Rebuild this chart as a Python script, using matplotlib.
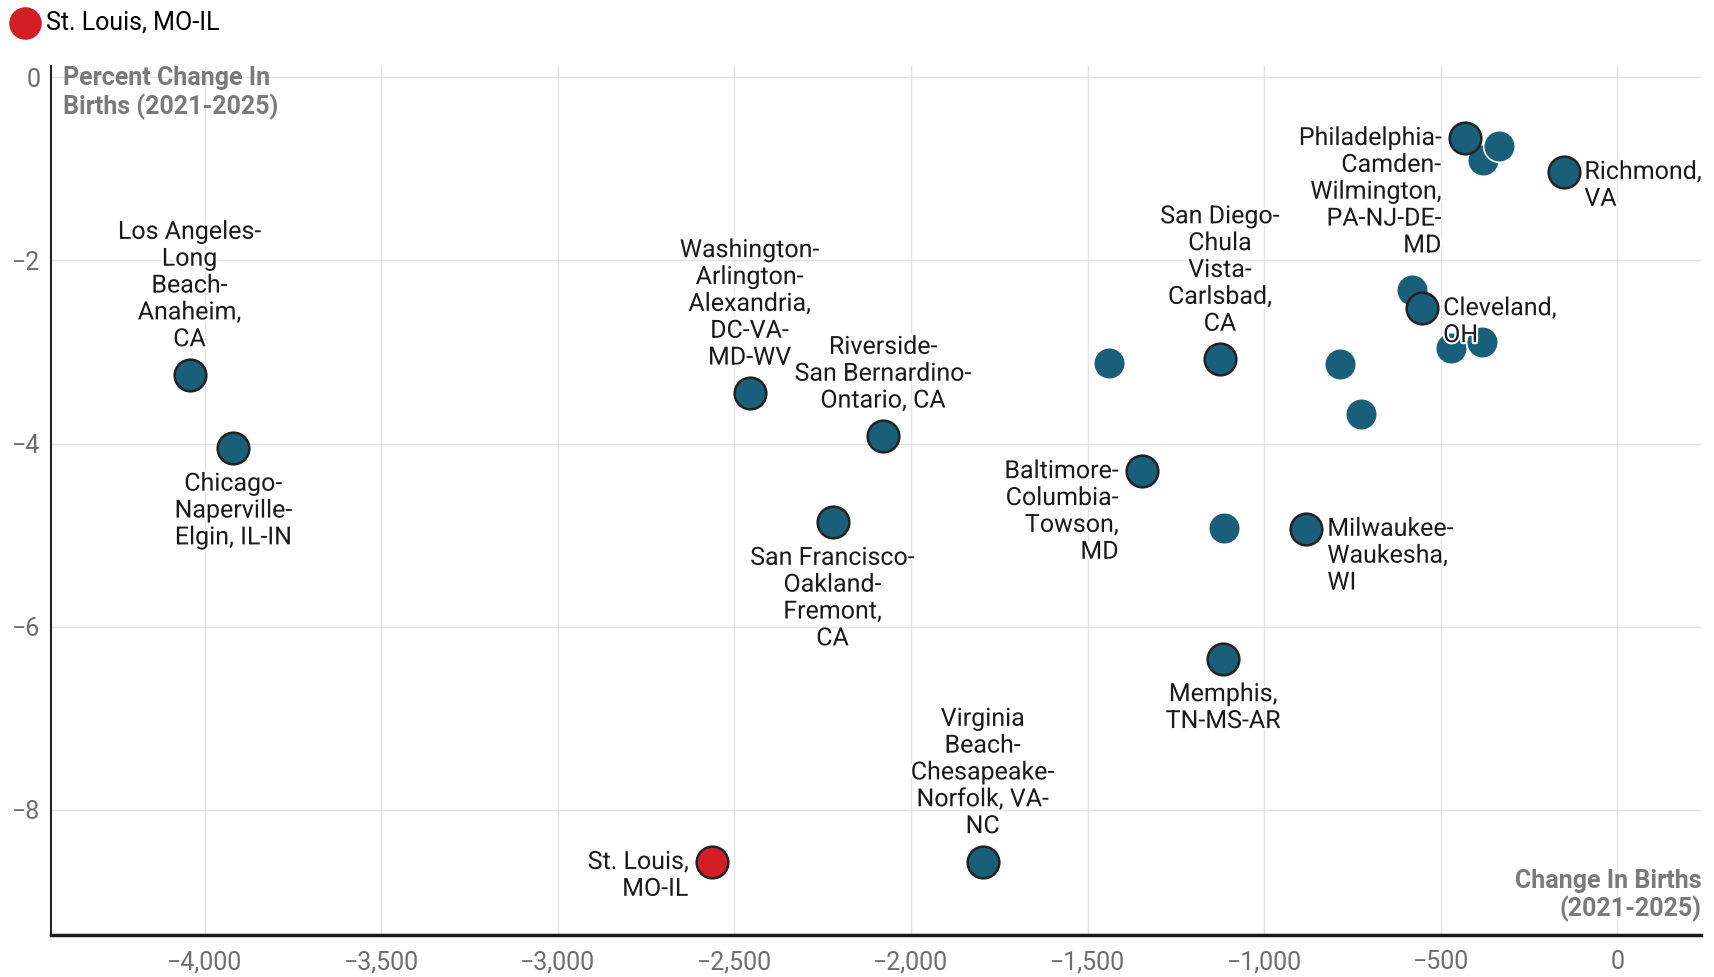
import matplotlib.pyplot as plt
import matplotlib.patheffects as pe
from matplotlib.ticker import FuncFormatter

plt.rcParams['font.family'] = ['Roboto', 'DejaVu Sans']

# data
metros = ['Los Angeles-\nLong\nBeach-\nAnaheim,\nCA',
          'Chicago-\nNaperville-\nElgin, IL-IN',
          'Washington-\nArlington-\nAlexandria,\nDC-VA-\nMD-WV',
          'Riverside-\nSan Bernardino-\nOntario, CA',
          'San Francisco-\nOakland-\nFremont,\nCA',
          'St. Louis,\nMO-IL',
          'Virginia\nBeach-\nChesapeake-\nNorfolk, VA-\nNC',
          '',
          'San Diego-\nChula\nVista-\nCarlsbad,\nCA',
          'Baltimore-\nColumbia-\nTowson,\nMD',
          '',
          'Memphis,\nTN-MS-AR',
          'Milwaukee-\nWaukesha,\nWI',
          '', '', '',
          'Cleveland,\nOH',
          '', '',
          'Philadelphia-\nCamden-\nWilmington,\nPA-NJ-DE-\nMD',
          '', '',
          'Richmond,\nVA']
change = [-4043, -3919, -2457, -2079, -2222, -2563, -1797, -1438, -1125,
          -1345, -1113, -1116, -880, -784, -726, -580, -552, -472, -382,
          -431, -379, -335, -152]
pct = [-3.25, -4.05, -3.45, -3.92, -4.86, -8.57, -8.57, -3.12, -3.08,
       -4.30, -4.92, -6.35, -4.93, -3.13, -3.68, -2.32, -2.52, -2.96, -2.89,
       -0.66, -0.90, -0.75, -1.03]
highlight = 'St. Louis,\nMO-IL'

# label placement: (ha, va, dx, dy) in points
place = {'above': ('center', 'bottom', 0, 17),
         'below': ('center', 'top', 0, -17),
         'left': ('right', 'top', -17, 8.5),
         'right': ('left', 'top', 15, 8.5)}
side = ['above', 'below', 'above', 'above', 'below', 'left', 'above', None,
        'above', 'left', None, 'below', 'right', None, None, None, 'right',
        None, None, 'left', None, None, 'right']

teal = '#1a5f7a'
red = '#d21f26'
gray = '#7a7a7a'

fig = plt.figure(figsize=(17.15, 9.77), dpi=100)
ax = fig.add_axes([0.030, 0.043, 0.962, 0.889])

# unlabeled first, then labeled, then highlight on top
order = sorted(range(len(change)), key=lambda i: (metros[i] != '', metros[i] == highlight))
for i in order:
    if metros[i] == highlight:
        ax.scatter(change[i], pct[i], s=520, color=red, edgecolor='#222222',
                   linewidth=1.8, zorder=4, label='St. Louis, MO-IL')
    elif metros[i]:
        ax.scatter(change[i], pct[i], s=520, color=teal, edgecolor='#222222',
                   linewidth=1.8, zorder=3)
    else:
        ax.scatter(change[i], pct[i], s=520, color=teal, edgecolor='white',
                   linewidth=1.2, zorder=2)

for i, name in enumerate(metros):
    if not name:
        continue
    ha, va, dx, dy = place[side[i]]
    ax.annotate(name, (change[i], pct[i]), xytext=(dx, dy),
                textcoords='offset points', ha=ha, va=va,
                multialignment=ha,
                fontsize=18, color='#1a1a1a', linespacing=1.15, zorder=5,
                annotation_clip=False, clip_on=True,
                path_effects=[pe.withStroke(linewidth=3, foreground='white')])

ax.set_xlim(-4434, 238)
ax.set_ylim(-9.37, 0.12)
ax.set_xticks(range(-4000, 1, 500))
ax.set_yticks([0, -2, -4, -6, -8])
ax.xaxis.set_major_formatter(FuncFormatter(lambda v, p: f'{v:,.0f}'.replace('-', '\u2212')))
ax.yaxis.set_major_formatter(FuncFormatter(lambda v, p: f'{v:.0f}'.replace('-', '\u2212')))
ax.tick_params(length=0, labelsize=18, labelcolor='#6e6e6e')
ax.tick_params(axis='x', pad=11)
ax.tick_params(axis='y', pad=8)
ax.grid(color='#e3e3e3', linewidth=1)
ax.set_axisbelow(True)

for s in ['top', 'right']:
    ax.spines[s].set_visible(False)
ax.spines['left'].set_linewidth(1.5)
ax.spines['left'].set_color('#222222')
ax.spines['bottom'].set_linewidth(2.5)
ax.spines['bottom'].set_color('#1a1a1a')

ax.text(0.007, 1.0, 'Percent Change In\nBirths (2021-2025)', transform=ax.transAxes,
        ha='left', va='top', fontsize=18, fontweight='bold', color=gray, linespacing=1.15)
ax.text(1.0, 0.015, 'Change In Births\n(2021-2025)', transform=ax.transAxes,
        ha='right', va='bottom', fontsize=18, fontweight='bold', color=gray,
        linespacing=1.15, multialignment='right')

leg = fig.legend(loc='upper left', bbox_to_anchor=(-0.003, 1.007), frameon=False,
                 fontsize=18, handlelength=1.0, handletextpad=0.35, markerscale=0.95,
                 borderaxespad=0.3)
leg.legend_handles[0].set_edgecolor(red)

fig.savefig('out.png', dpi=100)
